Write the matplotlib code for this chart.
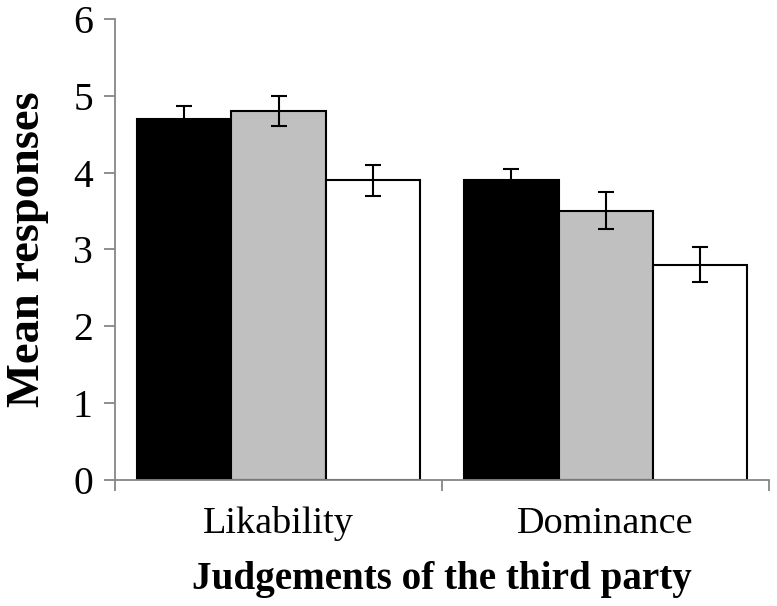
import matplotlib
matplotlib.use("Agg")
import matplotlib.pyplot as plt
import numpy as np

# judgement categories and the three conditions
categories = ["Likability", "Dominance"]
cond_black = [4.7, 3.9]
cond_gray = [4.8, 3.5]
cond_white = [3.9, 2.8]
err_black = [0.16, 0.15]
err_gray = [0.2, 0.24]
err_white = [0.2, 0.23]
yticks = [0, 1, 2, 3, 4, 5, 6]

plt.rcParams['font.family'] = ['Liberation Serif', 'DejaVu Serif']

fig = plt.figure(figsize=(7.77, 6.06), dpi=100)
ax = fig.add_axes([0.148, 0.208, 0.842, 0.761])

x = np.arange(len(categories))
w = 0.288
series = [(cond_black, err_black, 'black', -w),
          (cond_gray, err_gray, '#c0c0c0', 0),
          (cond_white, err_white, 'white', w)]
for vals, errs, col, off in series:
    ax.bar(x + off, vals, w, color=col, edgecolor='black', linewidth=1.5, zorder=2)
    ax.errorbar(x + off, vals, yerr=errs, fmt='none', ecolor='black',
                elinewidth=1.5, capsize=6, capthick=1.5, zorder=3)

ax.set_xlim(-0.5, 1.5)
ax.set_ylim(0, 6)
ax.set_yticks(yticks)
ax.set_yticklabels([str(t) for t in yticks], fontsize=28.5)

# category boundaries as major ticks, labels on minor ticks
ax.set_xticks([-0.5, 0.5, 1.5])
ax.set_xticklabels([])
ax.set_xticks(x, minor=True)
ax.set_xticklabels(categories, minor=True, fontsize=27.5)
ax.tick_params(axis='x', which='minor', length=0, pad=19)
ax.tick_params(axis='x', which='major', length=8, width=1.3, color='#868686')
ax.tick_params(axis='y', length=8, width=1.3, color='#868686', pad=8)

for s in ['top', 'right']:
    ax.spines[s].set_visible(False)
for s in ['left', 'bottom']:
    ax.spines[s].set_color('#868686')
    ax.spines[s].set_linewidth(1.3)

ax.set_ylabel("Mean responses", fontsize=33.5, fontweight='bold', labelpad=17)
ax.set_xlabel("Judgements of the third party", fontsize=28.2, fontweight='bold', labelpad=14)

fig.savefig("out.png", dpi=100)
